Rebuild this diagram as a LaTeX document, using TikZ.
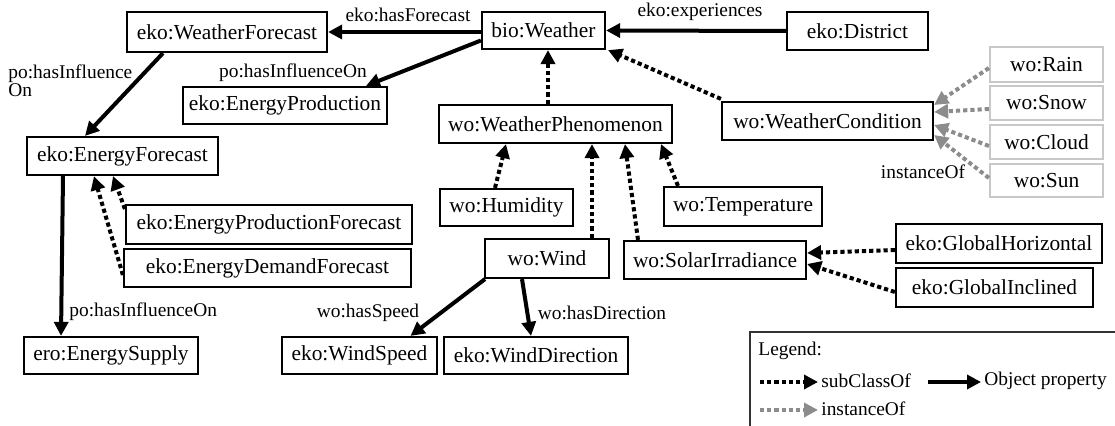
\documentclass[tikz,border=0pt]{standalone}
\usepackage{fontspec}
\setmainfont{Liberation Serif}
\usetikzlibrary{arrows.meta}
\definecolor{instgray}{HTML}{8C8C8C}
\definecolor{boxgray}{HTML}{C8C8C8}
\tikzset{
  cls/.style={draw=black, line width=1.1pt, inner sep=0pt, font=\fontsize{10.7pt}{12pt}\selectfont},
  inst/.style={cls, draw=boxgray},
  lbl/.style={inner sep=0pt, font=\fontsize{9.7pt}{11pt}\selectfont},
  prop/.style={line width=2pt, -{Triangle[length=7pt,width=7pt]}},
  sub/.style={line width=2pt, dash pattern=on 2.1pt off 1.5pt, -{Triangle[length=7pt,width=7pt]}},
  ins/.style={sub, draw=instgray},
}
\begin{document}
\begin{tikzpicture}[x=0.5pt,y=-0.5pt]
\useasboundingbox (0,0) rectangle (1115,426);

% classes
\node[cls, minimum width=100pt, minimum height=20pt]   (wf)    at (227,32)     {eko:WeatherForecast};
\node[cls, minimum width=61.5pt, minimum height=18.5pt] (bw)   at (543.5,30.5) {bio:Weather};
\node[cls, minimum width=70.5pt, minimum height=19pt]  (di)    at (857.5,31)   {eko:District};
\node[cls, minimum width=102pt, minimum height=18.5pt] (ep)    at (285,105.5)  {eko:EnergyProduction};
\node[cls, minimum width=116.5pt, minimum height=19pt] (wp)    at (555.5,124)  {wo:WeatherPhenomenon};
\node[cls, minimum width=105.5pt, minimum height=19pt] (wc)    at (827.5,121)  {wo:WeatherCondition};
\node[cls, minimum width=95.5pt, minimum height=19pt]  (ef)    at (122.5,156)  {eko:EnergyForecast};
\node[cls, minimum width=143pt, minimum height=19.5pt] (epf)   at (269,224.5)  {eko:EnergyProductionForecast};
\node[cls, minimum width=143.5pt, minimum height=19pt] (edf)   at (267.5,268)  {eko:EnergyDemandForecast};
\node[cls, minimum width=66.5pt, minimum height=18.5pt] (hum)  at (506.5,207.5) {wo:Humidity};
\node[cls, minimum width=79pt, minimum height=19.5pt]  (temp)  at (743,206.5)  {wo:Temperature};
\node[cls, minimum width=62pt, minimum height=19.5pt]  (wind)  at (547,258.5)  {wo:Wind};
\node[cls, minimum width=91pt, minimum height=19pt]    (solar) at (715,260)    {wo:SolarIrradiance};
\node[cls, minimum width=103pt, minimum height=19.5pt] (gh)    at (999,243.5)  {eko:GlobalHorizontal};
\node[cls, minimum width=98.5pt, minimum height=19.5pt] (gi)   at (994.5,287.5) {eko:GlobalInclined};
\node[cls, minimum width=87pt, minimum height=18.5pt]  (es)    at (111,355.5)  {ero:EnergySupply};
\node[cls, minimum width=77.5pt, minimum height=18.5pt] (ws)   at (359.5,355.5) {eko:WindSpeed};
\node[cls, minimum width=92pt, minimum height=18.5pt]  (wd)    at (536,355.5)  {eko:WindDirection};

% instances
\node[inst, minimum width=56.5pt, minimum height=17.5pt] (rain)  at (1046.5,64.5)  {wo:Rain};
\node[inst, minimum width=56.5pt, minimum height=17pt]   (snow)  at (1046.5,103)   {wo:Snow};
\node[inst, minimum width=56.5pt, minimum height=17pt]   (cloud) at (1046.5,142)   {wo:Cloud};
\node[inst, minimum width=56.5pt, minimum height=16.5pt] (sun)   at (1046.5,180.5) {wo:Sun};

% object properties
\draw[prop] (bw.west |- wf.east) -- (wf.east);
\draw[prop] (di.west) -- (bw.east);
\draw[prop] ([yshift=-5pt]bw.west) -- ([xshift=40.5pt]ep.north);
\draw[prop] ([xshift=-32pt]wf.south) -- ([xshift=-18.75pt]ef.north);
\draw[prop] ([xshift=-29.75pt]ef.south) -- ([xshift=-25pt]es.north);
\draw[prop] ([xshift=-31pt]wind.south) -- ([xshift=25.5pt]ws.north);
\draw[prop] ([xshift=-12.5pt]wind.south) -- ([xshift=-2.5pt]wd.north);

% subclass links
\draw[sub] ([yshift=7.75pt]epf.west) -- ([xshift=-4.75pt]ef.south);
\draw[sub] ([yshift=-3.5pt]edf.west) -- ([xshift=-14.25pt]ef.south);
\draw[sub] ([xshift=-3.75pt]wp.north) -- ([xshift=-3.75pt]wp.north |- bw.south);
\draw[sub] ([yshift=1pt]wc.north west) -- ([xshift=1pt]bw.south east);
\draw[sub] ([xshift=-5.75pt]hum.north) -- ([xshift=-24.75pt]wp.south);
\draw[sub] ([xshift=22.5pt]wind.north) -- ([xshift=18.25pt]wp.south);
\draw[sub] ([xshift=-38.5pt]solar.north) -- ([xshift=34.75pt]wp.south);
\draw[sub] ([xshift=-32.5pt]temp.north) -- ([xshift=52.75pt]wp.south);
\draw[sub] ([yshift=-3.25pt]gh.west) -- ([yshift=3.5pt]solar.east);
\draw[sub] ([yshift=-2.25pt]gi.west) -- ([yshift=-2pt]solar.east);

% instance links
\draw[ins] ([yshift=-1.75pt]rain.west) -- ([yshift=8pt]wc.east);
\draw[ins] ([yshift=-3pt]snow.west) -- ([yshift=4.5pt]wc.east);
\draw[ins] ([yshift=-2pt]cloud.west) -- ([yshift=-2pt]wc.east);
\draw[ins] ([yshift=1.25pt]sun.west) -- ([yshift=-7pt]wc.east);

% edge labels
\node[lbl] (l1) at (408,15) {eko:hasForecast};
\node[lbl] (l2) at (700,12) {eko:experiences};
\node[lbl] (l3) at (293,73) {po:hasInfluenceOn};
\node[lbl, anchor=north west, align=left, font=\fontsize{9.7pt}{9pt}\selectfont] (l4) at (8,64) {po:hasInfluence\\On};
\node[lbl, anchor=west] (l5) at (69,312) {po:hasInfluenceOn};
\node[lbl] (l6) at (368,313) {wo:hasSpeed};
\node[lbl] (l7) at (602,313) {wo:hasDirection};
\node[lbl] (l8) at (923,172) {instanceOf};

% legend
\begin{scope}
  \clip (0,0) rectangle (1115,426);
  \draw[line width=0.8pt, draw=black!80] (750,332) rectangle (1130,440);
\end{scope}
\node[lbl, anchor=west] (lg)  at (758,351) {Legend:};
\coordinate (s0) at (760,382);
\coordinate (s1) at (818,382);
\node[lbl, anchor=west] (ls)  at (821,381) {subClassOf};
\coordinate (p0) at (928,382);
\coordinate (p1) at (981,382);
\node[lbl, anchor=west] (lp)  at (984,381) {Object property};
\coordinate (i0) at (760,410);
\coordinate (i1) at (818,410);
\node[lbl, anchor=west] (li)  at (821,409) {instanceOf};
\draw[sub, line width=1.7pt] (s0) -- (s1);
\draw[prop, line width=1.9pt] (p0) -- (p1);
\draw[ins, line width=1.7pt] (i0) -- (i1);
\end{tikzpicture}
\end{document}
